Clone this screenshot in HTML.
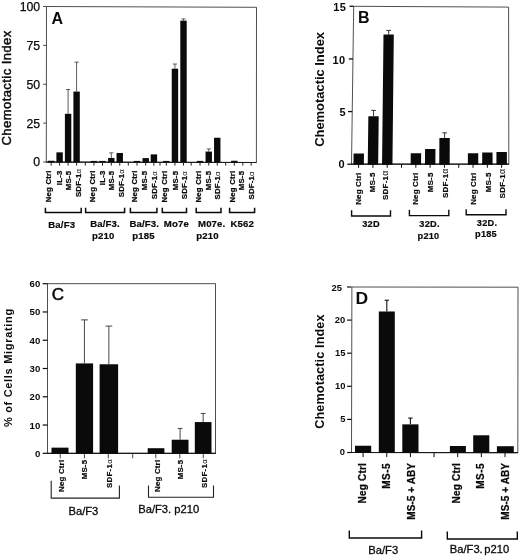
<!DOCTYPE html>
<html><head><meta charset="utf-8"><title>Figure</title>
<style>
html,body{margin:0;padding:0;background:#fff;}
body{width:520px;height:557px;overflow:hidden;font-family:"Liberation Sans",sans-serif;}
svg{display:block;filter:grayscale(1) blur(0.3px);font-family:"Liberation Sans",sans-serif;}
</style></head><body>
<svg width="520" height="557" viewBox="0 0 520 557">
<rect x="0" y="0" width="520" height="557" fill="#ffffff"/>
<polygon points="46.5,6.5 256.5,7.3 256.4,162.5 46.3,162.0" fill="none" stroke="#3c3c3c" stroke-width="0.9"/>
<line x1="46.00" y1="162.05" x2="256.50" y2="162.50" stroke="#1a1a1a" stroke-width="1.2"/>
<line x1="43.20" y1="162.00" x2="46.40" y2="162.00" stroke="#333" stroke-width="0.9"/>
<text x="40.20" y="166.40" font-size="12.3" font-weight="normal" text-anchor="end" fill="#0a0a0a" stroke="#0a0a0a" stroke-width="0.25">0</text>
<line x1="43.20" y1="123.12" x2="46.40" y2="123.12" stroke="#333" stroke-width="0.9"/>
<text x="40.20" y="127.53" font-size="12.3" font-weight="normal" text-anchor="end" fill="#0a0a0a" stroke="#0a0a0a" stroke-width="0.25">25</text>
<line x1="43.20" y1="84.25" x2="46.40" y2="84.25" stroke="#333" stroke-width="0.9"/>
<text x="40.20" y="88.65" font-size="12.3" font-weight="normal" text-anchor="end" fill="#0a0a0a" stroke="#0a0a0a" stroke-width="0.25">50</text>
<line x1="43.20" y1="45.38" x2="46.40" y2="45.38" stroke="#333" stroke-width="0.9"/>
<text x="40.20" y="49.77" font-size="12.3" font-weight="normal" text-anchor="end" fill="#0a0a0a" stroke="#0a0a0a" stroke-width="0.25">75</text>
<line x1="43.20" y1="6.50" x2="46.40" y2="6.50" stroke="#333" stroke-width="0.9"/>
<text x="40.20" y="10.90" font-size="12.3" font-weight="normal" text-anchor="end" fill="#0a0a0a" stroke="#0a0a0a" stroke-width="0.25">100</text>
<text x="11.30" y="87.90" font-size="13" font-weight="normal" text-anchor="middle" transform="rotate(-90 11.30 87.90)" letter-spacing="0.44" fill="#0a0a0a" stroke="#0a0a0a" stroke-width="0.45">Chemotactic Index</text>
<text x="57.30" y="24.00" font-size="16" font-weight="bold" text-anchor="middle" fill="#0a0a0a">A</text>
<line x1="85.30" y1="162.00" x2="85.30" y2="165.60" stroke="#222" stroke-width="1.0"/>
<line x1="128.30" y1="162.00" x2="128.30" y2="165.60" stroke="#222" stroke-width="1.0"/>
<line x1="160.00" y1="162.00" x2="160.00" y2="165.60" stroke="#222" stroke-width="1.0"/>
<line x1="191.20" y1="162.00" x2="191.20" y2="165.60" stroke="#222" stroke-width="1.0"/>
<line x1="225.70" y1="162.00" x2="225.70" y2="165.60" stroke="#222" stroke-width="1.0"/>
<rect x="48.00" y="160.76" width="6.40" height="1.74" fill="#0a0a0a"/>
<line x1="51.20" y1="162.00" x2="51.20" y2="165.60" stroke="#222" stroke-width="1.0"/>
<text x="51.15" y="170.30" font-size="7.8" font-weight="bold" text-anchor="end" transform="rotate(-90 51.15 170.30)" letter-spacing="0.2" fill="#0a0a0a" stroke="#0a0a0a" stroke-width="0.25">Neg Ctrl</text>
<rect x="56.40" y="152.36" width="6.40" height="10.14" fill="#0a0a0a"/>
<line x1="59.60" y1="162.00" x2="59.60" y2="165.60" stroke="#222" stroke-width="1.0"/>
<text x="61.50" y="170.50" font-size="7.8" font-weight="bold" text-anchor="end" transform="rotate(-90 61.50 170.50)" letter-spacing="0.2" fill="#0a0a0a" stroke="#0a0a0a" stroke-width="0.25">IL-3</text>
<rect x="64.90" y="113.80" width="6.40" height="48.70" fill="#0a0a0a"/>
<line x1="68.10" y1="113.80" x2="68.10" y2="89.54" stroke="#333" stroke-width="0.8"/>
<line x1="66.00" y1="89.54" x2="70.20" y2="89.54" stroke="#333" stroke-width="0.8"/>
<line x1="68.10" y1="162.00" x2="68.10" y2="165.60" stroke="#222" stroke-width="1.0"/>
<text x="71.50" y="170.80" font-size="7.8" font-weight="bold" text-anchor="end" transform="rotate(-90 71.50 170.80)" letter-spacing="0.2" fill="#0a0a0a" stroke="#0a0a0a" stroke-width="0.25">MS-5</text>
<rect x="73.40" y="91.56" width="6.40" height="70.94" fill="#0a0a0a"/>
<line x1="76.60" y1="91.56" x2="76.60" y2="62.17" stroke="#333" stroke-width="0.8"/>
<line x1="74.50" y1="62.17" x2="78.70" y2="62.17" stroke="#333" stroke-width="0.8"/>
<line x1="76.60" y1="162.00" x2="76.60" y2="165.60" stroke="#222" stroke-width="1.0"/>
<text x="80.70" y="168.80" font-size="7.8" font-weight="bold" text-anchor="end" transform="rotate(-90 80.70 168.80)" letter-spacing="0.2" fill="#0a0a0a" stroke="#0a0a0a" stroke-width="0.25">SDF-1<tspan font-weight="normal" stroke="none">α</tspan></text>
<rect x="90.75" y="160.91" width="6.40" height="1.59" fill="#0a0a0a"/>
<line x1="93.95" y1="162.00" x2="93.95" y2="165.60" stroke="#222" stroke-width="1.0"/>
<text x="94.80" y="170.30" font-size="7.8" font-weight="bold" text-anchor="end" transform="rotate(-90 94.80 170.30)" letter-spacing="0.2" fill="#0a0a0a" stroke="#0a0a0a" stroke-width="0.25">Neg Ctrl</text>
<rect x="99.30" y="160.91" width="6.40" height="1.59" fill="#0a0a0a"/>
<line x1="102.50" y1="162.00" x2="102.50" y2="165.60" stroke="#222" stroke-width="1.0"/>
<text x="104.60" y="170.50" font-size="7.8" font-weight="bold" text-anchor="end" transform="rotate(-90 104.60 170.50)" letter-spacing="0.2" fill="#0a0a0a" stroke="#0a0a0a" stroke-width="0.25">IL-3</text>
<rect x="108.10" y="157.96" width="6.40" height="4.54" fill="#0a0a0a"/>
<line x1="111.30" y1="157.96" x2="111.30" y2="152.83" stroke="#333" stroke-width="0.8"/>
<line x1="109.20" y1="152.83" x2="113.40" y2="152.83" stroke="#333" stroke-width="0.8"/>
<line x1="111.30" y1="162.00" x2="111.30" y2="165.60" stroke="#222" stroke-width="1.0"/>
<text x="114.40" y="170.80" font-size="7.8" font-weight="bold" text-anchor="end" transform="rotate(-90 114.40 170.80)" letter-spacing="0.2" fill="#0a0a0a" stroke="#0a0a0a" stroke-width="0.25">MS-5</text>
<rect x="116.55" y="152.98" width="6.40" height="9.52" fill="#0a0a0a"/>
<line x1="119.75" y1="162.00" x2="119.75" y2="165.60" stroke="#222" stroke-width="1.0"/>
<text x="124.20" y="169.00" font-size="7.8" font-weight="bold" text-anchor="end" transform="rotate(-90 124.20 169.00)" letter-spacing="0.2" fill="#0a0a0a" stroke="#0a0a0a" stroke-width="0.25">SDF-1<tspan font-weight="normal" stroke="none">α</tspan></text>
<rect x="133.80" y="160.91" width="6.40" height="1.59" fill="#0a0a0a"/>
<line x1="137.00" y1="162.00" x2="137.00" y2="165.60" stroke="#222" stroke-width="1.0"/>
<text x="136.90" y="170.30" font-size="7.8" font-weight="bold" text-anchor="end" transform="rotate(-90 136.90 170.30)" letter-spacing="0.2" fill="#0a0a0a" stroke="#0a0a0a" stroke-width="0.25">Neg Ctrl</text>
<rect x="142.50" y="158.11" width="6.40" height="4.39" fill="#0a0a0a"/>
<line x1="145.70" y1="162.00" x2="145.70" y2="165.60" stroke="#222" stroke-width="1.0"/>
<text x="147.30" y="170.80" font-size="7.8" font-weight="bold" text-anchor="end" transform="rotate(-90 147.30 170.80)" letter-spacing="0.2" fill="#0a0a0a" stroke="#0a0a0a" stroke-width="0.25">MS-5</text>
<rect x="150.70" y="154.38" width="6.40" height="8.12" fill="#0a0a0a"/>
<line x1="153.90" y1="162.00" x2="153.90" y2="165.60" stroke="#222" stroke-width="1.0"/>
<text x="156.80" y="171.00" font-size="7.8" font-weight="bold" text-anchor="end" transform="rotate(-90 156.80 171.00)" letter-spacing="0.2" fill="#0a0a0a" stroke="#0a0a0a" stroke-width="0.25">SDF-1<tspan font-weight="normal" stroke="none">α</tspan></text>
<rect x="163.10" y="160.91" width="6.40" height="1.59" fill="#0a0a0a"/>
<line x1="166.30" y1="162.00" x2="166.30" y2="165.60" stroke="#222" stroke-width="1.0"/>
<text x="167.50" y="170.60" font-size="7.8" font-weight="bold" text-anchor="end" transform="rotate(-90 167.50 170.60)" letter-spacing="0.2" fill="#0a0a0a" stroke="#0a0a0a" stroke-width="0.25">Neg Ctrl</text>
<rect x="171.75" y="68.70" width="6.40" height="93.80" fill="#0a0a0a"/>
<line x1="174.95" y1="68.70" x2="174.95" y2="64.04" stroke="#333" stroke-width="0.8"/>
<line x1="172.85" y1="64.04" x2="177.05" y2="64.04" stroke="#333" stroke-width="0.8"/>
<line x1="174.95" y1="162.00" x2="174.95" y2="165.60" stroke="#222" stroke-width="1.0"/>
<text x="177.70" y="170.80" font-size="7.8" font-weight="bold" text-anchor="end" transform="rotate(-90 177.70 170.80)" letter-spacing="0.2" fill="#0a0a0a" stroke="#0a0a0a" stroke-width="0.25">MS-5</text>
<rect x="180.30" y="20.65" width="6.40" height="141.85" fill="#0a0a0a"/>
<line x1="183.50" y1="20.65" x2="183.50" y2="18.94" stroke="#333" stroke-width="0.8"/>
<line x1="181.40" y1="18.94" x2="185.60" y2="18.94" stroke="#333" stroke-width="0.8"/>
<line x1="183.50" y1="162.00" x2="183.50" y2="165.60" stroke="#222" stroke-width="1.0"/>
<text x="186.90" y="171.00" font-size="7.8" font-weight="bold" text-anchor="end" transform="rotate(-90 186.90 171.00)" letter-spacing="0.2" fill="#0a0a0a" stroke="#0a0a0a" stroke-width="0.25">SDF-1<tspan font-weight="normal" stroke="none">α</tspan></text>
<rect x="196.80" y="160.91" width="6.40" height="1.59" fill="#0a0a0a"/>
<line x1="200.00" y1="162.00" x2="200.00" y2="165.60" stroke="#222" stroke-width="1.0"/>
<text x="201.00" y="170.60" font-size="7.8" font-weight="bold" text-anchor="end" transform="rotate(-90 201.00 170.60)" letter-spacing="0.2" fill="#0a0a0a" stroke="#0a0a0a" stroke-width="0.25">Neg Ctrl</text>
<rect x="205.55" y="151.58" width="6.40" height="10.92" fill="#0a0a0a"/>
<line x1="208.75" y1="151.58" x2="208.75" y2="148.94" stroke="#333" stroke-width="0.8"/>
<line x1="206.65" y1="148.94" x2="210.85" y2="148.94" stroke="#333" stroke-width="0.8"/>
<line x1="208.75" y1="162.00" x2="208.75" y2="165.60" stroke="#222" stroke-width="1.0"/>
<text x="211.20" y="170.80" font-size="7.8" font-weight="bold" text-anchor="end" transform="rotate(-90 211.20 170.80)" letter-spacing="0.2" fill="#0a0a0a" stroke="#0a0a0a" stroke-width="0.25">MS-5</text>
<rect x="214.05" y="137.74" width="6.40" height="24.76" fill="#0a0a0a"/>
<line x1="217.25" y1="162.00" x2="217.25" y2="165.60" stroke="#222" stroke-width="1.0"/>
<text x="220.20" y="171.20" font-size="7.8" font-weight="bold" text-anchor="end" transform="rotate(-90 220.20 171.20)" letter-spacing="0.2" fill="#0a0a0a" stroke="#0a0a0a" stroke-width="0.25">SDF-1<tspan font-weight="normal" stroke="none">α</tspan></text>
<rect x="231.10" y="160.76" width="6.40" height="1.74" fill="#0a0a0a"/>
<line x1="234.30" y1="162.00" x2="234.30" y2="165.60" stroke="#222" stroke-width="1.0"/>
<text x="234.60" y="170.60" font-size="7.8" font-weight="bold" text-anchor="end" transform="rotate(-90 234.60 170.60)" letter-spacing="0.2" fill="#0a0a0a" stroke="#0a0a0a" stroke-width="0.25">Neg Ctrl</text>
<line x1="242.80" y1="162.00" x2="242.80" y2="165.60" stroke="#222" stroke-width="1.0"/>
<text x="244.40" y="170.80" font-size="7.8" font-weight="bold" text-anchor="end" transform="rotate(-90 244.40 170.80)" letter-spacing="0.2" fill="#0a0a0a" stroke="#0a0a0a" stroke-width="0.25">MS-5</text>
<line x1="251.20" y1="162.00" x2="251.20" y2="165.60" stroke="#222" stroke-width="1.0"/>
<text x="254.00" y="171.20" font-size="7.8" font-weight="bold" text-anchor="end" transform="rotate(-90 254.00 171.20)" letter-spacing="0.2" fill="#0a0a0a" stroke="#0a0a0a" stroke-width="0.25">SDF-1<tspan font-weight="normal" stroke="none">α</tspan></text>
<polyline points="45.40,207.80 45.40,212.60 81.20,212.60 81.20,207.80" fill="none" stroke="#0a0a0a" stroke-width="1.5"/>
<polyline points="85.60,207.80 85.60,212.60 124.60,212.60 124.60,207.80" fill="none" stroke="#0a0a0a" stroke-width="1.5"/>
<polyline points="130.40,207.80 130.40,212.60 156.90,212.60 156.90,207.80" fill="none" stroke="#0a0a0a" stroke-width="1.5"/>
<polyline points="162.30,207.80 162.30,212.60 186.50,212.60 186.50,207.80" fill="none" stroke="#0a0a0a" stroke-width="1.5"/>
<polyline points="196.20,207.80 196.20,212.60 221.00,212.60 221.00,207.80" fill="none" stroke="#0a0a0a" stroke-width="1.5"/>
<polyline points="229.60,207.80 229.60,212.60 254.60,212.60 254.60,207.80" fill="none" stroke="#0a0a0a" stroke-width="1.5"/>
<text x="61.70" y="227.60" font-size="9.6" font-weight="bold" text-anchor="middle" letter-spacing="0.15" fill="#0a0a0a" stroke="#0a0a0a" stroke-width="0.2">Ba/F3</text>
<text x="105.00" y="226.80" font-size="9.6" font-weight="bold" text-anchor="middle" letter-spacing="0.15" fill="#0a0a0a" stroke="#0a0a0a" stroke-width="0.2">Ba/F3.</text>
<text x="103.20" y="238.60" font-size="9.6" font-weight="bold" text-anchor="middle" letter-spacing="0.15" fill="#0a0a0a" stroke="#0a0a0a" stroke-width="0.2">p210</text>
<text x="144.30" y="227.00" font-size="9.6" font-weight="bold" text-anchor="middle" letter-spacing="0.15" fill="#0a0a0a" stroke="#0a0a0a" stroke-width="0.2">Ba/F3.</text>
<text x="143.50" y="238.80" font-size="9.6" font-weight="bold" text-anchor="middle" letter-spacing="0.15" fill="#0a0a0a" stroke="#0a0a0a" stroke-width="0.2">p185</text>
<text x="176.40" y="227.00" font-size="9.6" font-weight="bold" text-anchor="middle" letter-spacing="0.15" fill="#0a0a0a" stroke="#0a0a0a" stroke-width="0.2">Mo7e</text>
<text x="211.70" y="227.00" font-size="9.6" font-weight="bold" text-anchor="middle" letter-spacing="0.15" fill="#0a0a0a" stroke="#0a0a0a" stroke-width="0.2">M07e.</text>
<text x="207.60" y="238.80" font-size="9.6" font-weight="bold" text-anchor="middle" letter-spacing="0.15" fill="#0a0a0a" stroke="#0a0a0a" stroke-width="0.2">p210</text>
<text x="242.20" y="227.00" font-size="9.6" font-weight="bold" text-anchor="middle" letter-spacing="0.15" fill="#0a0a0a" stroke="#0a0a0a" stroke-width="0.2">K562</text>
<polygon points="353.7,6.3 508.6,7.1 508.8,164.2 351.5,164.2" fill="none" stroke="#3c3c3c" stroke-width="0.9"/>
<line x1="351.20" y1="164.20" x2="509.10" y2="164.20" stroke="#1a1a1a" stroke-width="1.2"/>
<line x1="347.30" y1="164.20" x2="351.50" y2="164.20" stroke="#0a0a0a" stroke-width="1.3"/>
<text x="344.94" y="168.20" font-size="11" font-weight="bold" text-anchor="end" letter-spacing="0.4" fill="#0a0a0a">0</text>
<line x1="348.06" y1="111.57" x2="352.24" y2="111.57" stroke="#0a0a0a" stroke-width="1.3"/>
<text x="346.00" y="115.90" font-size="11" font-weight="bold" text-anchor="end" letter-spacing="0.4" fill="#0a0a0a">5</text>
<line x1="348.81" y1="58.93" x2="352.97" y2="58.93" stroke="#0a0a0a" stroke-width="1.3"/>
<text x="345.58" y="63.50" font-size="11" font-weight="bold" text-anchor="end" letter-spacing="0.4" fill="#0a0a0a">10</text>
<line x1="349.57" y1="6.30" x2="353.71" y2="6.30" stroke="#0a0a0a" stroke-width="1.3"/>
<text x="346.34" y="11.40" font-size="11" font-weight="bold" text-anchor="end" letter-spacing="0.4" fill="#0a0a0a">15</text>
<text x="323.70" y="89.40" font-size="13" font-weight="bold" text-anchor="middle" transform="rotate(-90 323.70 89.40)" letter-spacing="-0.04" fill="#0a0a0a">Chemotactic Index</text>
<text x="363.80" y="22.70" font-size="16" font-weight="bold" text-anchor="middle" fill="#0a0a0a">B</text>
<line x1="401.55" y1="164.20" x2="401.52" y2="167.80" stroke="#0a0a0a" stroke-width="1.0"/>
<line x1="458.75" y1="164.20" x2="458.73" y2="167.80" stroke="#0a0a0a" stroke-width="1.0"/>
<polygon points="353.60,153.46 363.99,153.46 363.84,164.70 353.44,164.70" fill="#0a0a0a"/>
<line x1="358.65" y1="164.20" x2="358.60" y2="167.80" stroke="#0a0a0a" stroke-width="1.0"/>
<polygon points="368.35,116.30 378.71,116.30 378.14,164.70 367.74,164.70" fill="#0a0a0a"/>
<line x1="373.53" y1="116.30" x2="373.60" y2="110.41" stroke="#222" stroke-width="0.9"/>
<line x1="371.31" y1="110.41" x2="375.89" y2="110.41" stroke="#222" stroke-width="0.9"/>
<line x1="372.95" y1="164.20" x2="372.91" y2="167.80" stroke="#0a0a0a" stroke-width="1.0"/>
<polygon points="383.51,34.62 393.79,34.62 392.44,164.70 382.04,164.70" fill="#0a0a0a"/>
<line x1="388.65" y1="34.62" x2="388.70" y2="30.41" stroke="#222" stroke-width="0.9"/>
<line x1="386.42" y1="30.41" x2="390.97" y2="30.41" stroke="#222" stroke-width="0.9"/>
<line x1="387.25" y1="164.20" x2="387.21" y2="167.80" stroke="#0a0a0a" stroke-width="1.0"/>
<polygon points="410.74,153.36 421.13,153.36 421.05,164.70 410.65,164.70" fill="#0a0a0a"/>
<line x1="415.85" y1="164.20" x2="415.82" y2="167.80" stroke="#0a0a0a" stroke-width="1.0"/>
<polygon points="425.06,148.94 435.45,148.94 435.35,164.70 424.95,164.70" fill="#0a0a0a"/>
<line x1="430.15" y1="164.20" x2="430.12" y2="167.80" stroke="#0a0a0a" stroke-width="1.0"/>
<polygon points="439.41,138.09 449.79,138.09 449.65,164.70 439.25,164.70" fill="#0a0a0a"/>
<line x1="444.60" y1="138.09" x2="444.63" y2="132.83" stroke="#222" stroke-width="0.9"/>
<line x1="442.34" y1="132.83" x2="446.92" y2="132.83" stroke="#222" stroke-width="0.9"/>
<line x1="444.45" y1="164.20" x2="444.43" y2="167.80" stroke="#0a0a0a" stroke-width="1.0"/>
<polygon points="467.89,153.15 478.28,153.15 478.25,164.70 467.85,164.70" fill="#0a0a0a"/>
<line x1="473.05" y1="164.20" x2="473.04" y2="167.80" stroke="#0a0a0a" stroke-width="1.0"/>
<polygon points="482.18,152.62 492.57,152.62 492.55,164.70 482.15,164.70" fill="#0a0a0a"/>
<line x1="487.35" y1="164.20" x2="487.34" y2="167.80" stroke="#0a0a0a" stroke-width="1.0"/>
<polygon points="496.46,152.09 506.85,152.09 506.85,164.70 496.45,164.70" fill="#0a0a0a"/>
<line x1="501.65" y1="164.20" x2="501.65" y2="167.80" stroke="#0a0a0a" stroke-width="1.0"/>
<text x="360.80" y="172.50" font-size="8.0" font-weight="bold" text-anchor="end" transform="rotate(-90 360.80 172.50)" letter-spacing="0.15" fill="#0a0a0a" stroke="#0a0a0a" stroke-width="0.2">Neg Ctrl</text>
<text x="374.60" y="172.50" font-size="8.0" font-weight="bold" text-anchor="end" transform="rotate(-90 374.60 172.50)" letter-spacing="0.15" fill="#0a0a0a" stroke="#0a0a0a" stroke-width="0.2">MS-5</text>
<text x="388.50" y="170.40" font-size="8.0" font-weight="bold" text-anchor="end" transform="rotate(-90 388.50 170.40)" letter-spacing="0.25" fill="#0a0a0a" stroke="#0a0a0a" stroke-width="0.2">SDF-1<tspan font-weight="normal" stroke="none" font-size="8.8">α</tspan></text>
<text x="417.90" y="172.50" font-size="8.0" font-weight="bold" text-anchor="end" transform="rotate(-90 417.90 172.50)" letter-spacing="0.15" fill="#0a0a0a" stroke="#0a0a0a" stroke-width="0.2">Neg Ctrl</text>
<text x="433.40" y="172.50" font-size="8.0" font-weight="bold" text-anchor="end" transform="rotate(-90 433.40 172.50)" letter-spacing="0.15" fill="#0a0a0a" stroke="#0a0a0a" stroke-width="0.2">MS-5</text>
<text x="448.50" y="168.30" font-size="8.0" font-weight="bold" text-anchor="end" transform="rotate(-90 448.50 168.30)" letter-spacing="0.25" fill="#0a0a0a" stroke="#0a0a0a" stroke-width="0.2">SDF-1<tspan font-weight="normal" stroke="none" font-size="8.8">α</tspan></text>
<text x="475.80" y="172.50" font-size="8.0" font-weight="bold" text-anchor="end" transform="rotate(-90 475.80 172.50)" letter-spacing="0.15" fill="#0a0a0a" stroke="#0a0a0a" stroke-width="0.2">Neg Ctrl</text>
<text x="490.80" y="172.50" font-size="8.0" font-weight="bold" text-anchor="end" transform="rotate(-90 490.80 172.50)" letter-spacing="0.15" fill="#0a0a0a" stroke="#0a0a0a" stroke-width="0.2">MS-5</text>
<text x="505.00" y="168.70" font-size="8.0" font-weight="bold" text-anchor="end" transform="rotate(-90 505.00 168.70)" letter-spacing="0.25" fill="#0a0a0a" stroke="#0a0a0a" stroke-width="0.2">SDF-1<tspan font-weight="normal" stroke="none" font-size="8.8">α</tspan></text>
<polyline points="351.60,210.30 351.60,216.00 390.50,216.00 390.50,210.30" fill="none" stroke="#0a0a0a" stroke-width="1.4"/>
<polyline points="409.40,209.70 409.40,215.60 448.80,215.60 448.80,209.70" fill="none" stroke="#0a0a0a" stroke-width="1.4"/>
<polyline points="466.20,209.30 466.20,214.80 506.00,214.80 506.00,209.30" fill="none" stroke="#0a0a0a" stroke-width="1.4"/>
<text x="371.00" y="227.40" font-size="9.2" font-weight="bold" text-anchor="middle" letter-spacing="0.25" fill="#0a0a0a" stroke="#0a0a0a" stroke-width="0.2">32D</text>
<text x="429.50" y="227.00" font-size="9.2" font-weight="bold" text-anchor="middle" letter-spacing="0.25" fill="#0a0a0a" stroke="#0a0a0a" stroke-width="0.2">32D.</text>
<text x="428.50" y="238.70" font-size="9.2" font-weight="bold" text-anchor="middle" letter-spacing="0.25" fill="#0a0a0a" stroke="#0a0a0a" stroke-width="0.2">p210</text>
<text x="487.00" y="225.70" font-size="9.2" font-weight="bold" text-anchor="middle" letter-spacing="0.25" fill="#0a0a0a" stroke="#0a0a0a" stroke-width="0.2">32D.</text>
<text x="486.00" y="237.20" font-size="9.2" font-weight="bold" text-anchor="middle" letter-spacing="0.25" fill="#0a0a0a" stroke="#0a0a0a" stroke-width="0.2">p185</text>
<rect x="47.50" y="283.70" width="168.00" height="169.60" fill="none" stroke="#3c3c3c" stroke-width="0.9"/>
<line x1="47.20" y1="453.30" x2="215.80" y2="453.30" stroke="#1a1a1a" stroke-width="1.2"/>
<line x1="42.70" y1="453.30" x2="47.50" y2="453.30" stroke="#0a0a0a" stroke-width="1.2"/>
<text x="40.70" y="456.80" font-size="9.6" font-weight="bold" text-anchor="end" letter-spacing="0.3" fill="#0a0a0a">0</text>
<line x1="42.70" y1="425.03" x2="47.50" y2="425.03" stroke="#0a0a0a" stroke-width="1.2"/>
<text x="40.70" y="428.53" font-size="9.6" font-weight="bold" text-anchor="end" letter-spacing="0.3" fill="#0a0a0a">10</text>
<line x1="42.70" y1="396.77" x2="47.50" y2="396.77" stroke="#0a0a0a" stroke-width="1.2"/>
<text x="40.70" y="400.27" font-size="9.6" font-weight="bold" text-anchor="end" letter-spacing="0.3" fill="#0a0a0a">20</text>
<line x1="42.70" y1="368.50" x2="47.50" y2="368.50" stroke="#0a0a0a" stroke-width="1.2"/>
<text x="40.70" y="372.00" font-size="9.6" font-weight="bold" text-anchor="end" letter-spacing="0.3" fill="#0a0a0a">30</text>
<line x1="42.70" y1="340.23" x2="47.50" y2="340.23" stroke="#0a0a0a" stroke-width="1.2"/>
<text x="40.70" y="343.73" font-size="9.6" font-weight="bold" text-anchor="end" letter-spacing="0.3" fill="#0a0a0a">40</text>
<line x1="42.70" y1="311.97" x2="47.50" y2="311.97" stroke="#0a0a0a" stroke-width="1.2"/>
<text x="40.70" y="315.47" font-size="9.6" font-weight="bold" text-anchor="end" letter-spacing="0.3" fill="#0a0a0a">50</text>
<line x1="42.70" y1="283.70" x2="47.50" y2="283.70" stroke="#0a0a0a" stroke-width="1.2"/>
<text x="40.70" y="286.50" font-size="9.6" font-weight="bold" text-anchor="end" letter-spacing="0.3" fill="#0a0a0a">60</text>
<text x="11.80" y="367.60" font-size="11" font-weight="bold" text-anchor="middle" transform="rotate(-90 11.80 367.60)" letter-spacing="0.69" fill="#0a0a0a">% of Cells Migrating</text>
<text x="57.80" y="300.40" font-size="17" font-weight="normal" text-anchor="middle" fill="#0a0a0a" stroke="#0a0a0a" stroke-width="0.5">C</text>
<line x1="60.20" y1="453.30" x2="60.20" y2="458.30" stroke="#333" stroke-width="0.9"/>
<line x1="84.40" y1="453.30" x2="84.40" y2="458.30" stroke="#333" stroke-width="0.9"/>
<line x1="108.30" y1="453.30" x2="108.30" y2="458.30" stroke="#333" stroke-width="0.9"/>
<line x1="132.70" y1="453.30" x2="132.70" y2="458.30" stroke="#333" stroke-width="0.9"/>
<line x1="155.80" y1="453.30" x2="155.80" y2="458.30" stroke="#333" stroke-width="0.9"/>
<line x1="179.80" y1="453.30" x2="179.80" y2="458.30" stroke="#333" stroke-width="0.9"/>
<line x1="203.30" y1="453.30" x2="203.30" y2="458.30" stroke="#333" stroke-width="0.9"/>
<rect x="51.50" y="447.65" width="17.00" height="6.15" fill="#0a0a0a"/>
<text x="63.70" y="459.70" font-size="7.9" font-weight="bold" text-anchor="end" transform="rotate(-90 63.70 459.70)" letter-spacing="0.2" fill="#0a0a0a" stroke="#0a0a0a" stroke-width="0.2">Neg Ctrl</text>
<rect x="75.80" y="363.41" width="17.30" height="90.39" fill="#0a0a0a"/>
<line x1="84.45" y1="363.41" x2="84.45" y2="319.88" stroke="#333" stroke-width="0.9"/>
<line x1="81.05" y1="319.88" x2="87.85" y2="319.88" stroke="#333" stroke-width="0.9"/>
<text x="87.20" y="459.70" font-size="7.9" font-weight="bold" text-anchor="end" transform="rotate(-90 87.20 459.70)" letter-spacing="0.2" fill="#0a0a0a" stroke="#0a0a0a" stroke-width="0.2">MS-5</text>
<rect x="99.60" y="364.26" width="18.50" height="89.54" fill="#0a0a0a"/>
<line x1="108.85" y1="364.26" x2="108.85" y2="326.10" stroke="#333" stroke-width="0.9"/>
<line x1="105.45" y1="326.10" x2="112.25" y2="326.10" stroke="#333" stroke-width="0.9"/>
<text x="111.80" y="458.90" font-size="7.9" font-weight="bold" text-anchor="end" transform="rotate(-90 111.80 458.90)" letter-spacing="0.3" fill="#0a0a0a" stroke="#0a0a0a" stroke-width="0.2">SDF-1<tspan font-weight="normal" stroke="none">α</tspan></text>
<rect x="147.70" y="448.21" width="16.70" height="5.59" fill="#0a0a0a"/>
<text x="160.20" y="459.70" font-size="7.9" font-weight="bold" text-anchor="end" transform="rotate(-90 160.20 459.70)" letter-spacing="0.2" fill="#0a0a0a" stroke="#0a0a0a" stroke-width="0.2">Neg Ctrl</text>
<rect x="171.70" y="439.73" width="16.80" height="14.07" fill="#0a0a0a"/>
<line x1="180.10" y1="439.73" x2="180.10" y2="428.43" stroke="#333" stroke-width="0.9"/>
<line x1="177.70" y1="428.43" x2="182.50" y2="428.43" stroke="#333" stroke-width="0.9"/>
<text x="182.60" y="459.70" font-size="7.9" font-weight="bold" text-anchor="end" transform="rotate(-90 182.60 459.70)" letter-spacing="0.2" fill="#0a0a0a" stroke="#0a0a0a" stroke-width="0.2">MS-5</text>
<rect x="194.80" y="422.07" width="16.70" height="31.73" fill="#0a0a0a"/>
<line x1="203.15" y1="422.07" x2="203.15" y2="413.44" stroke="#333" stroke-width="0.9"/>
<line x1="200.75" y1="413.44" x2="205.55" y2="413.44" stroke="#333" stroke-width="0.9"/>
<text x="206.90" y="458.90" font-size="7.9" font-weight="bold" text-anchor="end" transform="rotate(-90 206.90 458.90)" letter-spacing="0.3" fill="#0a0a0a" stroke="#0a0a0a" stroke-width="0.2">SDF-1<tspan font-weight="normal" stroke="none">α</tspan></text>
<polyline points="51.2,480.8 51.2,498.1 119.4,498.1 119.4,485.6" fill="none" stroke="#222" stroke-width="1.1"/>
<polyline points="148.50,485.60 148.50,497.20 213.50,497.20 213.50,485.60" fill="none" stroke="#222" stroke-width="1.1"/>
<text x="83.40" y="514.60" font-size="11.2" font-weight="normal" text-anchor="middle" fill="#0a0a0a" stroke="#0a0a0a" stroke-width="0.3">Ba/F3</text>
<text x="168.70" y="512.70" font-size="11.2" font-weight="normal" text-anchor="middle" fill="#0a0a0a" stroke="#0a0a0a" stroke-width="0.3">Ba/F3. p210</text>
<polygon points="351.9,287.0 518.0,287.2 517.8,452.7 351.5,452.5" fill="none" stroke="#3c3c3c" stroke-width="0.9"/>
<line x1="351.20" y1="452.50" x2="518.10" y2="452.70" stroke="#1a1a1a" stroke-width="1.2"/>
<line x1="347.10" y1="452.50" x2="351.50" y2="452.50" stroke="#0a0a0a" stroke-width="1.2"/>
<text x="345.00" y="455.40" font-size="9.4" font-weight="bold" text-anchor="end" fill="#0a0a0a">0</text>
<line x1="347.10" y1="419.40" x2="351.50" y2="419.40" stroke="#0a0a0a" stroke-width="1.2"/>
<text x="345.50" y="421.60" font-size="9.4" font-weight="bold" text-anchor="end" fill="#0a0a0a">5</text>
<line x1="347.10" y1="386.30" x2="351.50" y2="386.30" stroke="#0a0a0a" stroke-width="1.2"/>
<text x="345.50" y="389.00" font-size="9.4" font-weight="bold" text-anchor="end" fill="#0a0a0a">10</text>
<line x1="347.10" y1="353.20" x2="351.50" y2="353.20" stroke="#0a0a0a" stroke-width="1.2"/>
<text x="345.50" y="356.00" font-size="9.4" font-weight="bold" text-anchor="end" fill="#0a0a0a">15</text>
<line x1="347.10" y1="320.10" x2="351.50" y2="320.10" stroke="#0a0a0a" stroke-width="1.2"/>
<text x="345.20" y="323.40" font-size="9.4" font-weight="bold" text-anchor="end" fill="#0a0a0a">20</text>
<line x1="347.10" y1="287.00" x2="351.50" y2="287.00" stroke="#0a0a0a" stroke-width="1.2"/>
<text x="342.00" y="291.10" font-size="9.4" font-weight="bold" text-anchor="end" fill="#0a0a0a">25</text>
<text x="324.00" y="371.60" font-size="12.7" font-weight="bold" text-anchor="middle" transform="rotate(-90 324.00 371.60)" letter-spacing="0.1" fill="#0a0a0a">Chemotactic Index</text>
<text x="361.80" y="304.40" font-size="16.5" font-weight="bold" text-anchor="middle" transform="translate(361.80 304.40) scale(1.06 1) translate(-361.80 -304.40)" fill="#0a0a0a">D</text>
<line x1="363.10" y1="452.50" x2="363.10" y2="457.10" stroke="#0a0a0a" stroke-width="1.0"/>
<line x1="386.75" y1="452.50" x2="386.75" y2="457.10" stroke="#0a0a0a" stroke-width="1.0"/>
<line x1="410.40" y1="452.50" x2="410.40" y2="457.10" stroke="#0a0a0a" stroke-width="1.0"/>
<line x1="434.05" y1="452.50" x2="434.05" y2="457.10" stroke="#0a0a0a" stroke-width="1.0"/>
<line x1="457.70" y1="452.50" x2="457.70" y2="457.10" stroke="#0a0a0a" stroke-width="1.0"/>
<line x1="481.35" y1="452.50" x2="481.35" y2="457.10" stroke="#0a0a0a" stroke-width="1.0"/>
<line x1="505.00" y1="452.50" x2="505.00" y2="457.10" stroke="#0a0a0a" stroke-width="1.0"/>
<rect x="355.00" y="445.75" width="16.20" height="7.25" fill="#0a0a0a"/>
<text x="365.90" y="462.90" font-size="10.0" font-weight="bold" text-anchor="end" transform="rotate(-90 365.90 462.90)" letter-spacing="0.22" fill="#0a0a0a" stroke="#0a0a0a" stroke-width="0.25">Neg Ctrl</text>
<rect x="378.80" y="311.49" width="16.00" height="141.51" fill="#0a0a0a"/>
<line x1="386.80" y1="311.49" x2="386.80" y2="300.24" stroke="#111" stroke-width="1.1"/>
<line x1="384.60" y1="300.24" x2="389.00" y2="300.24" stroke="#111" stroke-width="1.1"/>
<text x="390.50" y="462.90" font-size="10.0" font-weight="bold" text-anchor="end" transform="rotate(-90 390.50 462.90)" letter-spacing="0.5" fill="#0a0a0a" stroke="#0a0a0a" stroke-width="0.25">MS-5</text>
<rect x="402.30" y="424.37" width="16.20" height="28.63" fill="#0a0a0a"/>
<line x1="410.40" y1="424.37" x2="410.40" y2="418.08" stroke="#111" stroke-width="1.1"/>
<line x1="408.20" y1="418.08" x2="412.60" y2="418.08" stroke="#111" stroke-width="1.1"/>
<text x="415.20" y="462.90" font-size="10.0" font-weight="bold" text-anchor="end" transform="rotate(-90 415.20 462.90)" letter-spacing="0.08" fill="#0a0a0a" stroke="#0a0a0a" stroke-width="0.25">MS-5 + ABY</text>
<rect x="449.90" y="446.01" width="16.00" height="6.99" fill="#0a0a0a"/>
<text x="459.80" y="462.90" font-size="10.0" font-weight="bold" text-anchor="end" transform="rotate(-90 459.80 462.90)" letter-spacing="0.22" fill="#0a0a0a" stroke="#0a0a0a" stroke-width="0.25">Neg Ctrl</text>
<rect x="473.20" y="435.29" width="16.10" height="17.71" fill="#0a0a0a"/>
<text x="484.10" y="462.90" font-size="10.0" font-weight="bold" text-anchor="end" transform="rotate(-90 484.10 462.90)" letter-spacing="0.5" fill="#0a0a0a" stroke="#0a0a0a" stroke-width="0.25">MS-5</text>
<rect x="496.90" y="446.21" width="16.90" height="6.79" fill="#0a0a0a"/>
<text x="509.10" y="462.90" font-size="10.0" font-weight="bold" text-anchor="end" transform="rotate(-90 509.10 462.90)" letter-spacing="0.08" fill="#0a0a0a" stroke="#0a0a0a" stroke-width="0.25">MS-5 + ABY</text>
<polyline points="349.30,530.50 349.30,538.00 421.60,538.00 421.60,530.50" fill="none" stroke="#0a0a0a" stroke-width="1.4"/>
<polyline points="447.30,531.50 447.30,539.00 517.30,539.00 517.30,531.50" fill="none" stroke="#0a0a0a" stroke-width="1.4"/>
<text x="383.20" y="553.50" font-size="11.2" font-weight="normal" text-anchor="middle" fill="#0a0a0a" stroke="#0a0a0a" stroke-width="0.3">Ba/F3</text>
<text x="479.50" y="553.40" font-size="11.2" font-weight="normal" text-anchor="middle" fill="#0a0a0a" stroke="#0a0a0a" stroke-width="0.3" word-spacing="-1.5">Ba/F3. p210</text>
</svg>
</body></html>
